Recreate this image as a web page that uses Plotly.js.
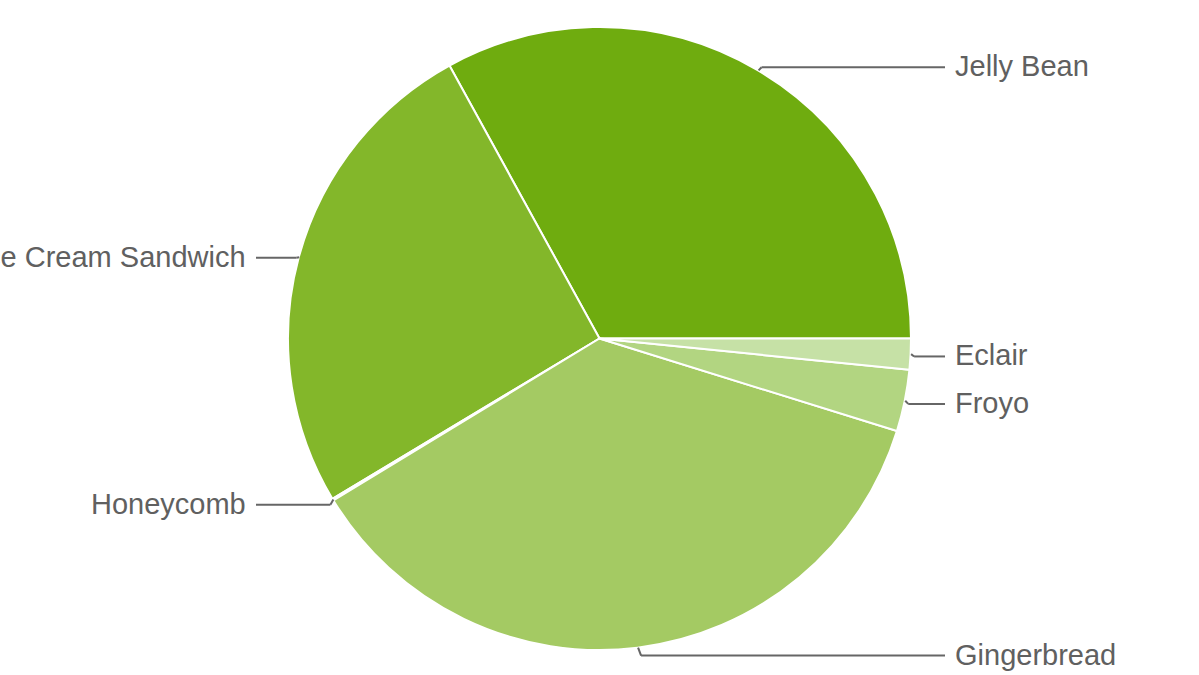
<!DOCTYPE html>
<html>
<head>
<meta charset="utf-8">
<script src="https://cdn.plot.ly/plotly-3.0.1.min.js"></script>
<style>html,body{margin:0;padding:0;background:#fff;}#chart{width:1199px;height:675px;}</style>
</head>
<body>
<div id="chart"></div>
<script>
const versions = ["Jelly Bean", "Ice Cream Sandwich", "Honeycomb", "Gingerbread", "Froyo", "Eclair"];
const shares = [33.0, 25.6, 0.1, 36.5, 3.2, 1.6];
const sliceColors = ["#6fac0f", "#83b72a", "#83b72a", "#a4ca63", "#b2d581", "#c6e1a6"];

const W = 1199, H = 675;
const cx = 600, cy = 338.5, R = 311.5;

const total = shares.reduce((a, b) => a + b, 0);

const trace = {
  type: "pie",
  labels: versions,
  values: shares,
  sort: false,
  direction: "counterclockwise",
  // first slice should begin at 3 o'clock and run counterclockwise
  rotation: 90 - shares[0] / total * 360,
  textinfo: "none",
  hoverinfo: "label+percent",
  marker: { colors: sliceColors, line: { color: "#ffffff", width: 2 } },
  domain: { x: [0, 1], y: [1 - (cy + R) / H, 1 - (cy - R) / H] },
  showlegend: false
};

// label geometry computed from the data
let acc = 0;
const items = shares.map((v, i) => {
  const a0 = acc / total * 2 * Math.PI;
  acc += v;
  const a1 = acc / total * 2 * Math.PI;
  const mid = (a0 + a1) / 2;
  const px = cx + R * Math.cos(mid);
  const py = cy - R * Math.sin(mid);
  const side = Math.cos(mid) >= 0 ? 1 : -1;
  const ly = cy - (R + 6) * Math.sin(mid) + 2;
  return { i, px, py, side, ly };
});
[1, -1].forEach(s => {
  const grp = items.filter(it => it.side === s).sort((a, b) => a.ly - b.ly);
  for (let k = 1; k < grp.length; k++) {
    if (grp[k].ly - grp[k - 1].ly < 46) grp[k].ly = grp[k - 1].ly + 46;
  }
});

const fx = x => x / W, fy = y => 1 - y / H;
const shapes = [], annotations = [];
items.forEach(it => {
  const bx = it.px + it.side * 3;
  const ex = it.side > 0 ? 945 : 256;
  const ln = { color: "#666666", width: 2 };
  shapes.push({ type: "line", xref: "paper", yref: "paper", x0: fx(it.px), y0: fy(it.py), x1: fx(bx), y1: fy(it.ly), line: ln });
  shapes.push({ type: "line", xref: "paper", yref: "paper", x0: fx(bx), y0: fy(it.ly), x1: fx(ex), y1: fy(it.ly), line: ln });
  annotations.push({
    xref: "paper", yref: "paper",
    x: fx(it.side > 0 ? 953 : 248), y: fy(it.ly - 1),
    xanchor: it.side > 0 ? "left" : "right", yanchor: "middle",
    text: versions[it.i], showarrow: false,
    font: { family: "Liberation Sans, Arial, sans-serif", size: 29, color: "#606060" }
  });
});

const layout = {
  width: W, height: H,
  margin: { l: 0, r: 0, t: 0, b: 0 },
  paper_bgcolor: "#ffffff",
  plot_bgcolor: "#ffffff",
  shapes, annotations,
  showlegend: false
};
Plotly.newPlot("chart", [trace], layout, { displayModeBar: false, staticPlot: true });
</script>
</body>
</html>
